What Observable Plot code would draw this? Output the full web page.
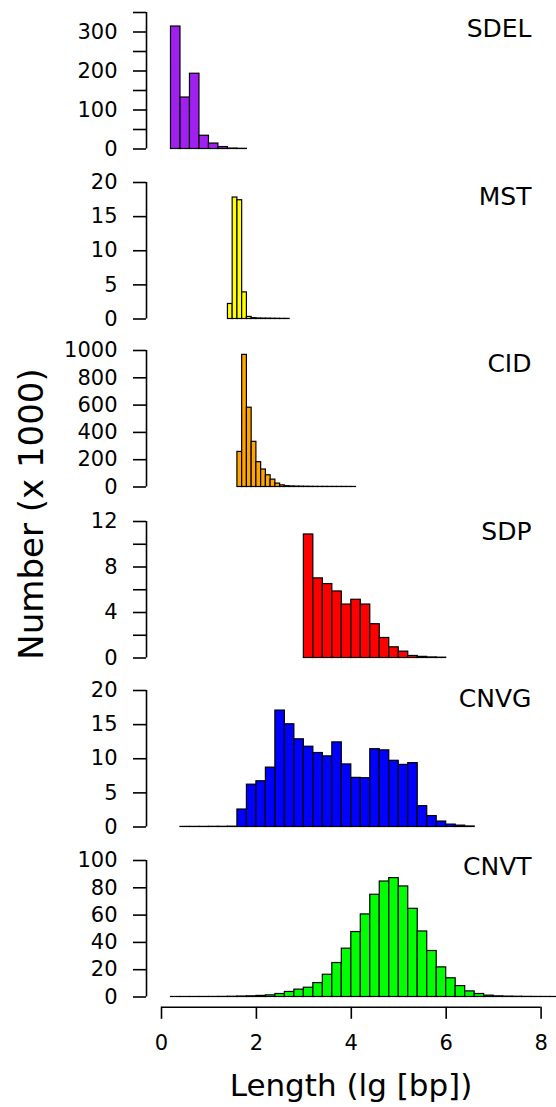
<!DOCTYPE html>
<html>
<head>
<meta charset="utf-8">
<script src="https://cdn.jsdelivr.net/npm/d3@7"></script>
<script src="https://cdn.jsdelivr.net/npm/@observablehq/plot@0.6"></script>
<style>
  body { margin: 0; background: white; }
  #chart { position: relative; width: 556px; height: 1107px; overflow: hidden; font-family: "DejaVu Sans", sans-serif; }
  #chart svg { position: absolute; left: 0; overflow: visible; }
</style>
</head>
<body>
<div id="chart"></div>
<script>
// ---- data (counts in thousands) ----
const names = ["SDEL", "MST", "CID", "SDP", "CNVG", "CNVT"];
const colors = ["#A020F0", "#FFFF00", "#FFA500", "#FF0000", "#0000FF", "#00FF00"];
const binStarts = [0.2, 1.4, 1.6, 3.0, 0.4, 0.2];
const binWidths = [0.2, 0.1, 0.1, 0.2, 0.2, 0.2];

const sdelCounts = [314, 132, 193, 34, 14, 5, 1.2, 0.5];
const mstCounts = [2.2, 17.8, 17.4, 3.9, 0.3, 0.12, 0.08, 0.06, 0.05, 0.04, 0.03, 0.02, 0.02];
const cidCounts = [257, 968, 581, 331, 182, 128, 86, 54, 25, 12, 6, 4, 3, 2.5, 2, 1.5, 1.2, 1, 0.9, 0.8, 0.7, 0.6, 0.5, 0.5, 0.4];
const sdpCounts = [10.86, 7.0, 6.5, 5.85, 4.7, 5.12, 4.7, 2.97, 1.76, 0.94, 0.56, 0.18, 0.1, 0.05, 0.03];
const cnvgCounts = [0.02, 0.02, 0.02, 0.03, 0.03, 0.05,
  2.56, 6.2, 6.7, 8.7, 17.06, 15.05, 12.85, 11.76, 10.84, 10.35, 12.4, 9.17, 7.2, 7.15,
  11.4, 11.23, 9.7, 9.1, 9.36, 3.05, 1.6, 0.8, 0.35, 0.2, 0.08];
const cnvtCounts = [0.02, 0.02, 0.03, 0.04, 0.06, 0.1, 0.2, 0.35, 0.5, 0.8,
  1.2, 2.2, 3.7, 5.4, 6.8, 10.2, 16.3, 24.9, 35.4, 47.6, 60.5, 74.9, 84.6, 87.1,
  81, 64.6, 48, 33.7, 21.7, 13.7, 8, 4.1, 2.2, 1.0,
  0.5, 0.3, 0.2, 0.1, 0.06, 0.04, 0.02];
const counts = [sdelCounts, mstCounts, cidCounts, sdpCounts, cnvgCounts, cnvtCounts];

const yMax = [350, 20, 1000, 12, 20, 100];
const yTicks = [
  [0, 50, 100, 150, 200, 250, 300, 350],
  [0, 5, 10, 15, 20],
  [0, 200, 400, 600, 800, 1000],
  [0, 2, 4, 6, 8, 10, 12],
  [0, 5, 10, 15, 20],
  [0, 20, 40, 60, 80, 100]
];
const yTickLabels = [
  [0, 100, 200, 300],
  [0, 5, 10, 15, 20],
  [0, 200, 400, 600, 800, 1000],
  [0, 4, 8, 12],
  [0, 5, 10, 15, 20],
  [0, 20, 40, 60, 80, 100]
];
const xTicks = [0, 2, 4, 6, 8];
const xTitle = "Length (lg [bp])";
const yTitle = "Number (x 1000)";

// ---- layout ----
const W = 556;
const PH = 136.5;              // panel height (0 .. yMax)
const zeroY = [148.3, 318.3, 486.7, 657, 826.7, 996.7];
const labelBase = [36.7, 204, 371.7, 539.3, 706.7, 874.3];
const mL = 161, mR = 15.4, mT = 12;

const chart = document.getElementById("chart");

names.forEach((name, i) => {
  const data = counts[i].map((v, j) => ({
    x1: binStarts[i] + j * binWidths[i],
    x2: binStarts[i] + (j + 1) * binWidths[i],
    v
  }));
  const isLast = i === names.length - 1;
  const mB = isLast ? 110 : 16;
  const marks = [
    Plot.rectY(data, {x1: "x1", x2: "x2", y: "v", fill: colors[i], stroke: "black", strokeWidth: 1.2}),
    Plot.ruleX([0], {y1: 0, y2: yMax[i], dx: -15, stroke: "black", strokeWidth: 1.6}),
    Plot.axisY({
      ticks: yTicks[i],
      tickFormat: d => yTickLabels[i].includes(d) ? String(d) : "",
      tickSize: 13, tickPadding: 16, dx: -15, strokeWidth: 1.6,
      label: null, fontSize: 21, fill: "black"
    }),
    Plot.text([name], {
      frameAnchor: "top-right", textAnchor: "end", lineAnchor: "bottom",
      dx: 531 - (W - mR), dy: labelBase[i] - (zeroY[i] - PH), fontSize: 25, fill: "black"
    })
  ];
  if (isLast) {
    marks.push(
      Plot.ruleY([0], {x1: xTicks[0], x2: xTicks[xTicks.length - 1], dy: 10.3, stroke: "black", strokeWidth: 1.6}),
      Plot.axisX({ticks: xTicks, tickSize: 12, tickPadding: 16, dy: 10.3, strokeWidth: 1.6, label: null, fontSize: 21, fill: "black"})
    );
  }
  const svg = Plot.plot({
    width: W,
    height: mT + PH + mB,
    marginTop: mT, marginBottom: mB, marginLeft: mL, marginRight: mR,
    x: {domain: [0, 8], axis: null},
    y: {domain: [0, yMax[i]], axis: null},
    style: {fontFamily: "DejaVu Sans", fontSize: "21px", background: "transparent", color: "black", overflow: "visible"},
    marks
  });
  svg.style.top = (zeroY[i] - PH - mT) + "px";
  chart.appendChild(svg);
});

// ---- axis titles ----
const overlay = d3.select(chart).append("svg")
  .attr("width", W).attr("height", 1107)
  .style("top", "0px").style("pointer-events", "none");
overlay.append("text")
  .attr("transform", "translate(43,514) rotate(-90)")
  .attr("text-anchor", "middle")
  .attr("font-family", "DejaVu Sans")
  .attr("font-size", 34)
  .text(yTitle);
overlay.append("text")
  .attr("x", 351).attr("y", 1096)
  .attr("text-anchor", "middle")
  .attr("font-family", "DejaVu Sans")
  .attr("font-size", 31)
  .text(xTitle);
</script>
</body>
</html>
